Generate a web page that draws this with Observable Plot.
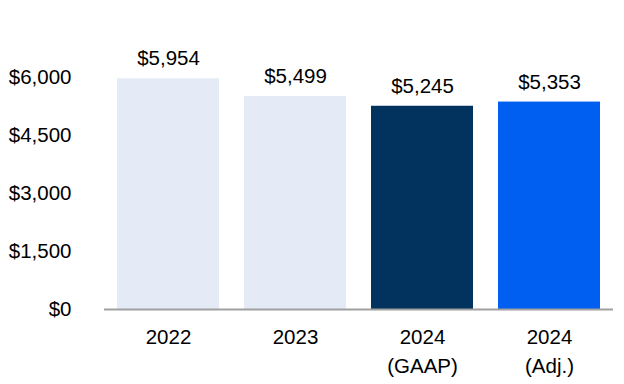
<!DOCTYPE html>
<html>
<head>
<meta charset="utf-8">
<script src="https://cdn.jsdelivr.net/npm/d3@7"></script>
<script src="https://cdn.jsdelivr.net/npm/@observablehq/plot@0.6"></script>
<style>
  html, body { margin: 0; padding: 0; background: #fff; }
  #chart { width: 624px; height: 384px; }
</style>
</head>
<body>
<div id="chart"></div>
<script>
const categories = ["2022", "2023", "2024 (GAAP)", "2024 (Adj.)"];
const tickLabels = ["2022", "2023", "2024\n(GAAP)", "2024\n(Adj.)"];
const values = [5954, 5499, 5245, 5353];
const barColors = ["#e5ebf6", "#e5ebf6", "#02335f", "#005ef0"];
const yTicks = [0, 1500, 3000, 4500, 6000];

const data = categories.map((c, i) => ({category: c, value: values[i], color: barColors[i]}));
const fmt = v => "$" + d3.format(",")(v);

const chart = Plot.plot({
  width: 624,
  height: 384,
  marginLeft: 104,
  marginRight: 11,
  marginTop: 76.5,
  marginBottom: 75,
  style: {fontFamily: "'Liberation Sans', Arial, sans-serif", fontSize: "20.5px", color: "#000", background: "#fff"},
  x: {domain: categories, paddingInner: 0.2, paddingOuter: 0.1, label: null},
  y: {domain: [0, 6000], label: null},
  marks: [
    Plot.barY(data, {x: "category", y: "value", fill: "color"}),
    Plot.ruleY([0], {stroke: "#a0a0a0", strokeWidth: 2}),
    Plot.text(data, {x: "category", y: "value", text: d => fmt(d.value), dy: -20, fontSize: 20.5, fill: "#000"}),
    Plot.axisY({ticks: yTicks, tickFormat: fmt, tickSize: 0, tickPadding: 33, fontSize: 20.5, label: null}),
    Plot.axisX({tickFormat: (d, i) => tickLabels[categories.indexOf(d)], tickSize: 0, tickPadding: 13, fontSize: 20.5, lineHeight: 1.45, label: null})
  ]
});
document.getElementById("chart").appendChild(chart);
</script>
</body>
</html>
